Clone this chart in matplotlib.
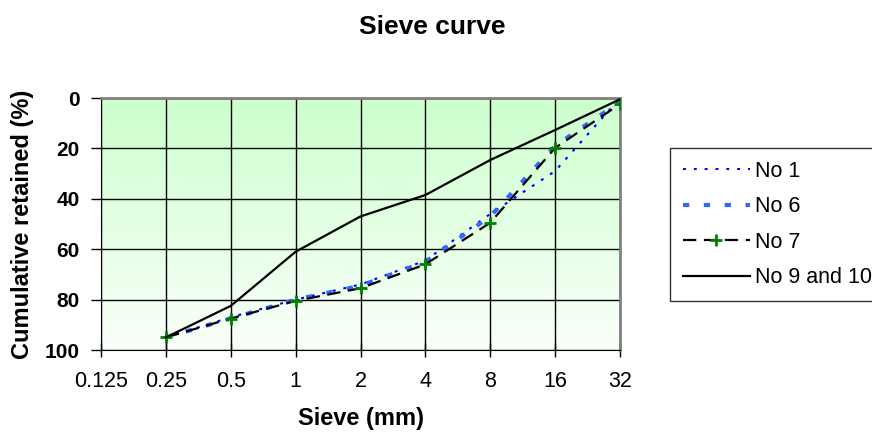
import numpy as np
import matplotlib
matplotlib.use("Agg")
import matplotlib.pyplot as plt

plt.rcParams['font.family'] = ['Liberation Sans', 'DejaVu Sans']

# sieve sizes (mm) and cumulative retained (%)
sieve_ticks = [0.125, 0.25, 0.5, 1, 2, 4, 8, 16, 32]
sieves = [0.25, 0.5, 1, 2, 4, 8, 16, 32]
no1 = [95, 87, 80, 74, 64.5, 46, 29, 0]
no6 = [95, 87.5, 80, 74.5, 65, 47, 19, 1.5]
no7 = [95, 87.5, 80.5, 75.5, 66, 49.5, 19.8, 2.4]
no9_10 = [95, 82.5, 61, 47, 38.5, 24.6, 12.7, 0.5]

W, H = 872, 442
fig = plt.figure(figsize=(W/100, H/100), dpi=100)
ax = fig.add_axes([101/W, 1-350/H, (620-101)/W, (350-98)/H])

# green to white background gradient
grad = np.linspace(0, 1, 256).reshape(-1, 1)
top = np.array([204, 255, 204]) / 255
bot = np.array([250, 255, 250]) / 255
img = top + grad[..., None] * (bot - top)
ax.imshow(img, extent=[0, 1, 0, 1], transform=ax.transAxes, aspect='auto', zorder=0)

ax.set_xscale('log', base=2)
ax.set_xlim(0.125, 32)
ax.set_ylim(100, 0)

ax.plot(sieves, no1, color='#0000ff', linestyle=(0, (1.4, 3.8)), lw=1.5, label='No 1', zorder=3)
ax.plot(sieves, no6, color='#3366ff', linestyle=(0, (1.5, 3.5)), lw=3, label='No 6', zorder=4)
ax.plot(sieves, no7, color='black', linestyle=(0, (6, 3.4)), lw=1.6, marker='+', ms=8, mew=2,
        mec='#008000', label='No 7', zorder=5)
ax.plot(sieves, no9_10, color='black', lw=1.6, label='No 9 and 10', zorder=6)

ax.set_xticks(sieve_ticks)
ax.set_xticklabels([str(s) for s in sieve_ticks])
ax.xaxis.set_minor_locator(matplotlib.ticker.NullLocator())
ax.set_yticks([0, 20, 40, 60, 80, 100])
ax.grid(True, color='black', lw=1)
for gl in ax.get_xgridlines() + ax.get_ygridlines():
    gl.set_zorder(1)

ax.tick_params(axis='x', direction='inout', length=10, width=1, labelsize=15.5, pad=10)
ax.tick_params(axis='y', direction='out', length=7, width=1, labelsize=15, pad=8.5)
for t in ax.get_yticklabels():
    t.set_fontweight('bold')

ax.spines['top'].set_color('#808080')
ax.spines['right'].set_color('#808080')
ax.spines['top'].set_linewidth(2)
ax.spines['right'].set_linewidth(2)
ax.spines['left'].set_color('black')
ax.spines['bottom'].set_color('black')

fig.text(432/W, 1-27/H, 'Sieve curve', ha='center', va='center', fontsize=19, fontweight='bold')
fig.text(361/W, 1-419/H, 'Sieve (mm)', ha='center', va='center', fontsize=17, fontweight='bold')
fig.text(23/W, 1-224/H, 'Cumulative retained (%)', ha='center', va='center', rotation=90,
         fontsize=17, fontweight='bold')

leg = ax.legend(loc='upper left', bbox_to_anchor=(670/W, 1-148/H), bbox_transform=fig.transFigure,
                fontsize=15.5, frameon=True, fancybox=False, edgecolor='black', handlelength=3.1,
                handletextpad=0.25, labelspacing=0.67, borderpad=0.6, borderaxespad=0)
leg.get_frame().set_linewidth(1)

fig.savefig('out.png', dpi=100)
